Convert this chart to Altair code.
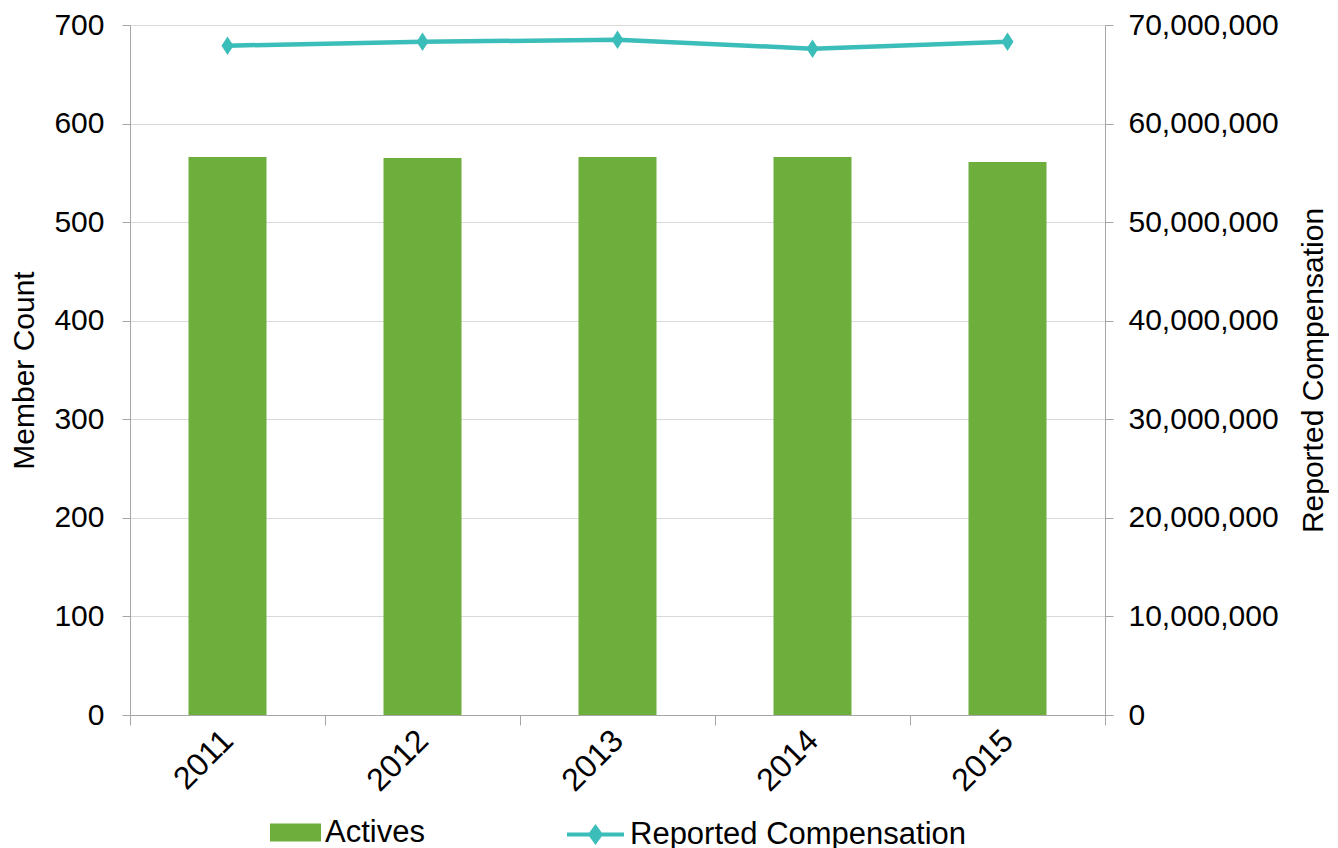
import altair as alt
import pandas as pd

years = ["2011", "2012", "2013", "2014", "2015"]
actives = [566, 565, 566, 566, 561]
compensation = [67900000, 68300000, 68500000, 67600000, 68300000]

df = pd.DataFrame({
    "Year": years,
    "Actives": actives,
    "Compensation": compensation,
    "BarSeries": ["Actives"] * 5,
    "LineSeries": ["Reported Compensation"] * 5,
})

GREEN = "#6DAE3C"
TEAL = "#3BBDB9"
FONT = "Liberation Sans"
AXIS_GRAY = "#A6A6A6"

x = alt.X(
    "Year:N",
    title=None,
    scale=alt.Scale(paddingInner=0, paddingOuter=0),
    axis=alt.Axis(
        labelAngle=-45,
        labelAlign="right",
        labelBaseline="middle",
        labelFontSize=32,
        labelFont=FONT,
        labelColor="#000000",
        labelPadding=10,
        tickBand="extent",
        tickSize=10,
        tickColor=AXIS_GRAY,
        domainColor=AXIS_GRAY,
        grid=False,
    ),
)

bars = alt.Chart(df).mark_bar(size=78).encode(
    x=x,
    y=alt.Y(
        "Actives:Q",
        title="Member Count",
        scale=alt.Scale(domain=[0, 700], nice=False),
        axis=alt.Axis(
            values=[0, 100, 200, 300, 400, 500, 600, 700],
            labelFontSize=30,
            labelFont=FONT,
            labelColor="#000000",
            labelPadding=18,
            tickSize=8,
            tickColor=AXIS_GRAY,
            domainColor=AXIS_GRAY,
            gridColor="#D9D9D9",
            grid=True,
            titleFontSize=30,
            titleFont=FONT,
            titleFontWeight="normal",
            titleColor="#000000",
            titlePadding=14,
        ),
    ),
    color=alt.Color(
        "BarSeries:N",
        scale=alt.Scale(domain=["Actives"], range=[GREEN]),
        legend=alt.Legend(
            title=None,
            orient="none",
            legendX=140,
            legendY=782,
            symbolType="M-1,-0.35H1V0.35H-1Z",
            symbolSize=2601,
            symbolStrokeWidth=0,
            labelFontSize=31,
            labelFont=FONT,
            labelColor="#000000",
            labelOffset=4,
            labelLimit=500,
            padding=0,
        ),
    ),
)

line = alt.Chart(df).mark_line(
    strokeWidth=4.5,
    color=TEAL,
    point=alt.OverlayMarkDef(
        shape="M0,-1L0.65,0L0,1L-0.65,0Z", size=220, filled=True, color=TEAL, opacity=1
    ),
).encode(
    x=x,
    y=alt.Y(
        "Compensation:Q",
        title="Reported Compensation",
        scale=alt.Scale(domain=[0, 70000000], nice=False),
        axis=alt.Axis(
            orient="right",
            values=[0, 10000000, 20000000, 30000000, 40000000, 50000000, 60000000, 70000000],
            format=",d",
            labelFontSize=30,
            labelFont=FONT,
            labelColor="#000000",
            labelPadding=15,
            tickSize=8,
            tickColor=AXIS_GRAY,
            domainColor=AXIS_GRAY,
            grid=False,
            titleFontSize=30,
            titleFont=FONT,
            titleFontWeight="normal",
            titleColor="#000000",
            titleAngle=270,
            titleBaseline="top",
            titlePadding=20,
        ),
    ),
    stroke=alt.Stroke(
        "LineSeries:N",
        scale=alt.Scale(domain=["Reported Compensation"], range=[TEAL]),
        legend=alt.Legend(
            title=None,
            orient="none",
            legendX=435,
            legendY=779,
            symbolType="M-1,0H1M0,-0.25L0.18,0L0,0.25L-0.18,0Z",
            symbolSize=3249,
            symbolStrokeWidth=4,
            symbolFillColor=TEAL,
            labelFontSize=31,
            labelFont=FONT,
            labelColor="#000000",
            labelOffset=4,
            labelLimit=500,
            padding=0,
        ),
    ),
)

chart = (
    alt.layer(bars, line)
    .resolve_scale(y="independent", color="independent")
    .properties(width=975, height=690, padding={"left": 1, "top": 2, "right": 0, "bottom": 0})
    .configure_view(stroke=None)
)

chart.save("out.html", embed_options={"renderer": "svg", "actions": False})
